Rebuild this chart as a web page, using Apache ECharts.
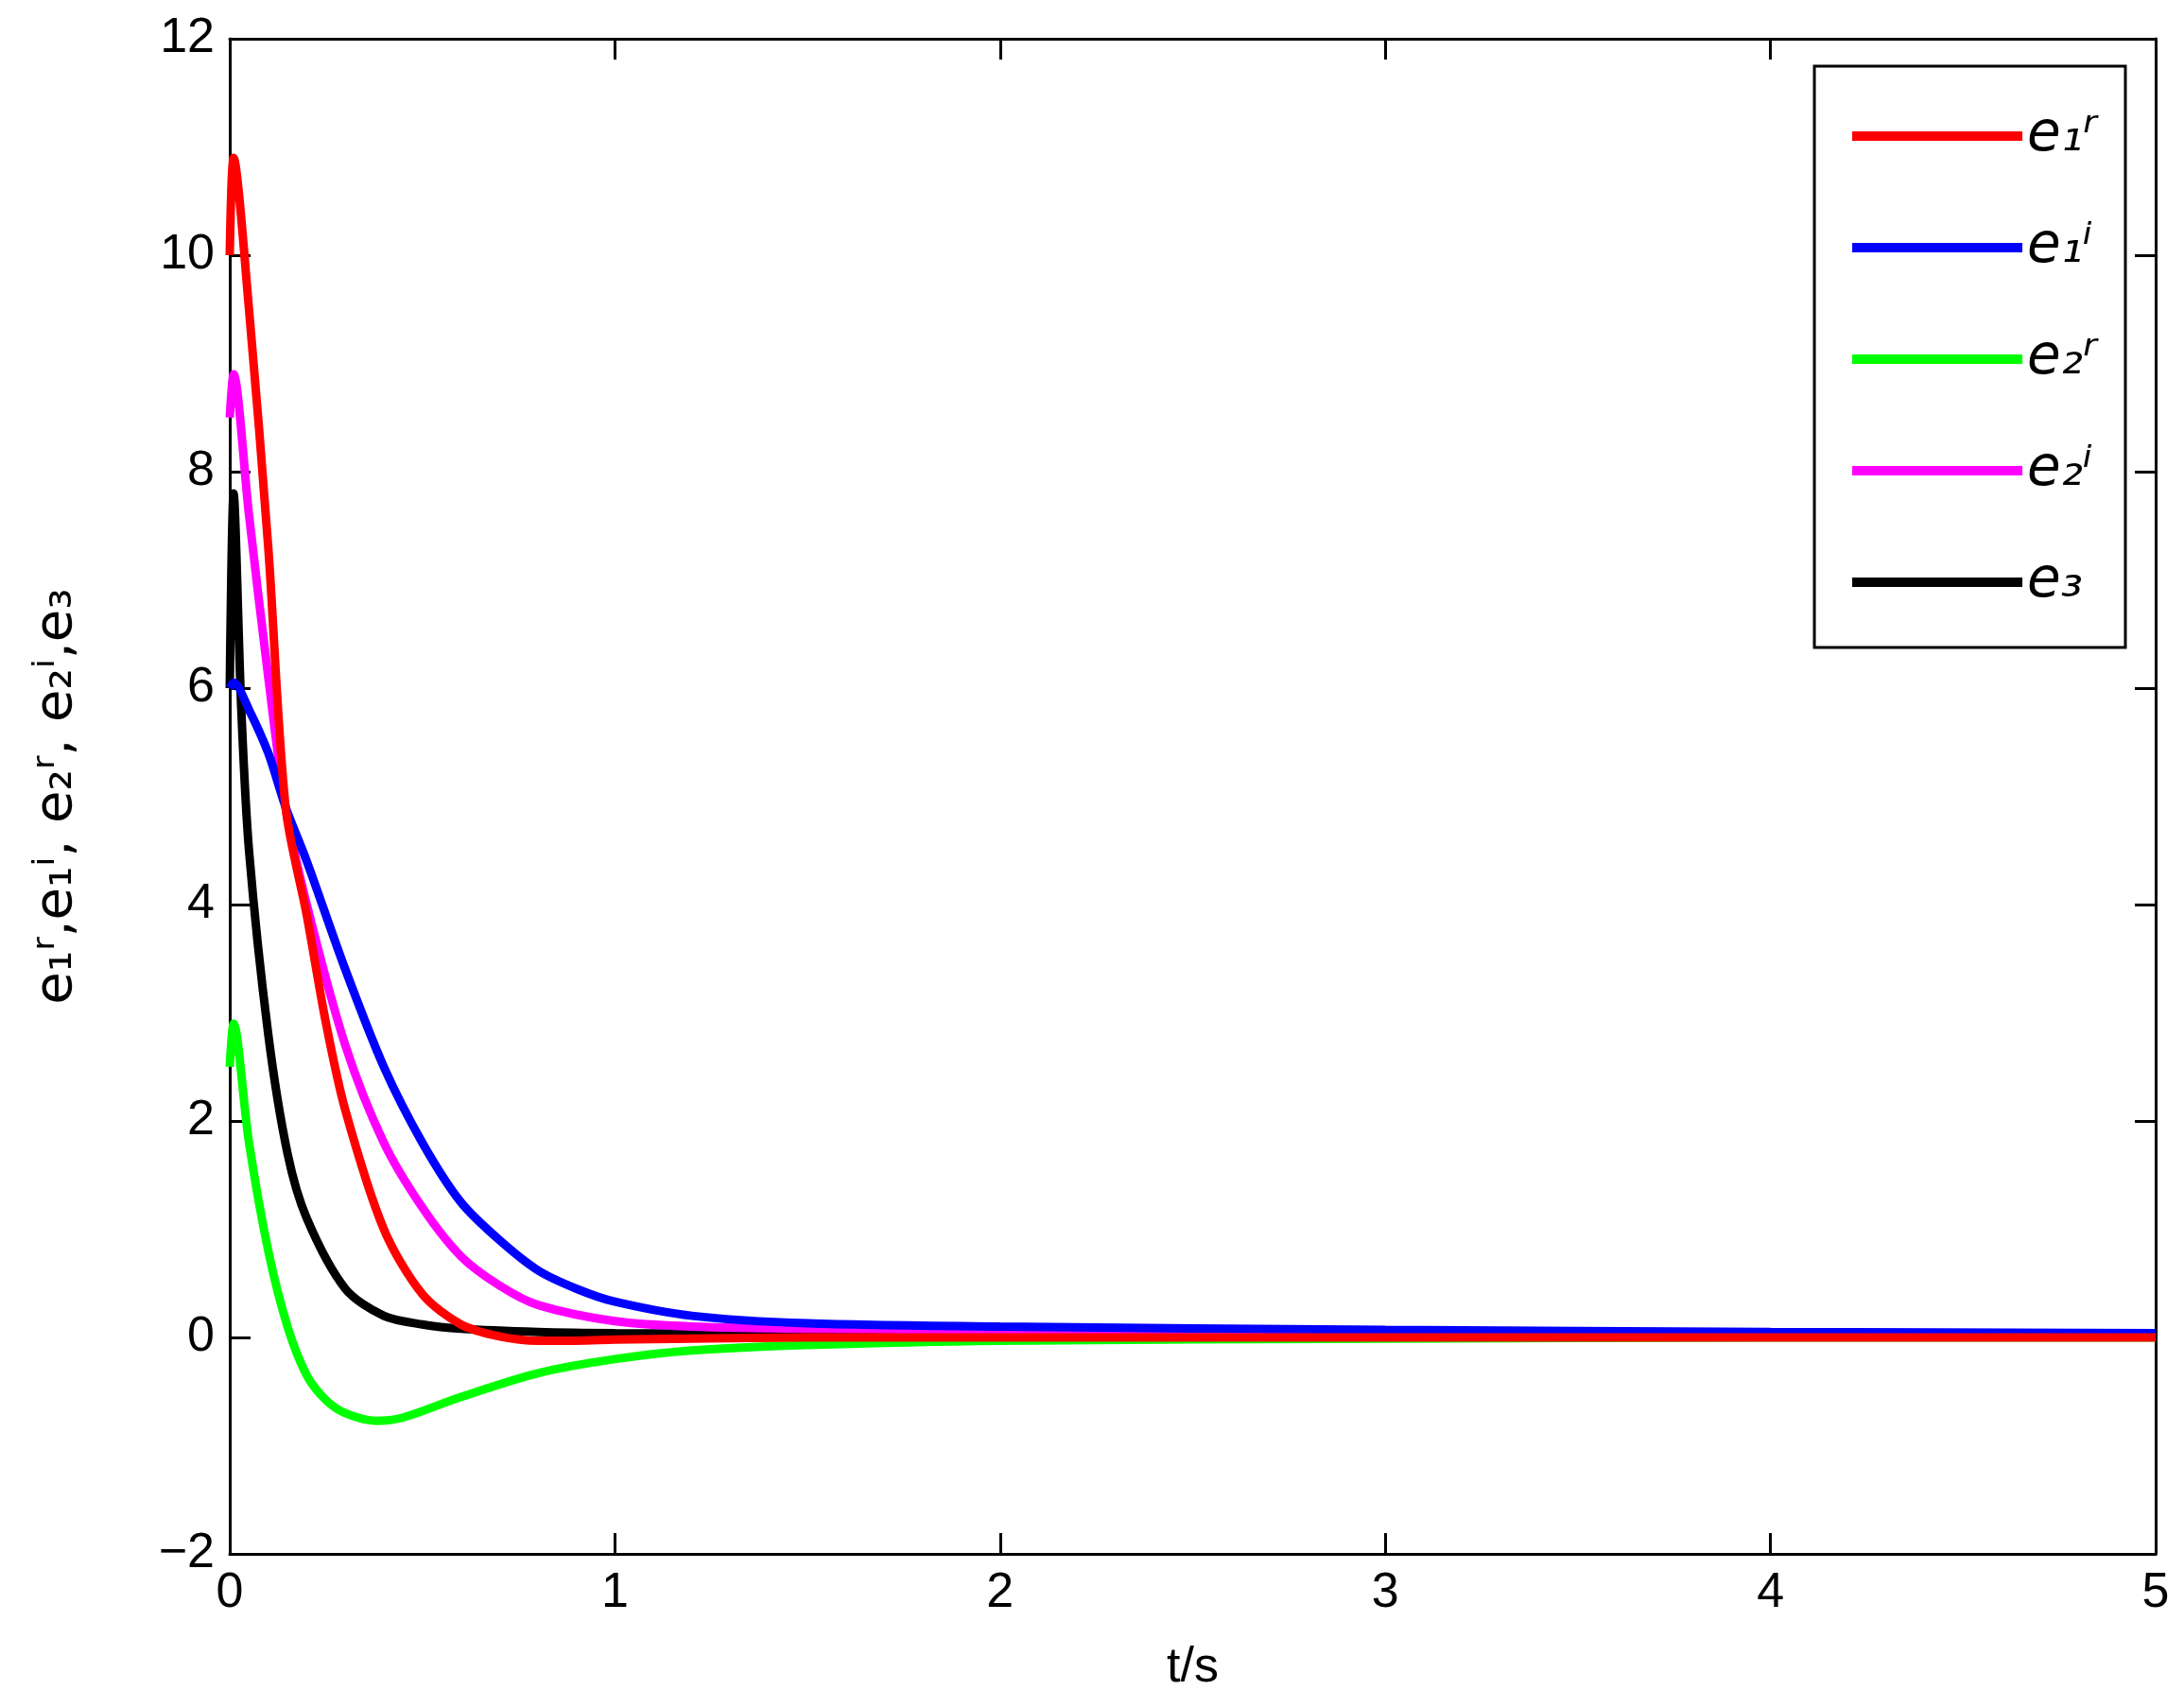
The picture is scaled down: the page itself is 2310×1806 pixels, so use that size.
<!DOCTYPE html><html><head><meta charset="utf-8"><style>html,body{margin:0;background:#fff}#c{width:2310px;height:1806px}</style>
<script src="https://cdn.jsdelivr.net/npm/echarts@6/dist/echarts.min.js"></script></head><body><div id="c"></div><script>
const names=['e₁ʳ','e₁ⁱ','e₂ʳ','e₂ⁱ','e₃'];
const colors=['#ff0000','#0000ff','#00ff00','#ff00ff','#000000'];
const e1r_t=[0,0.01,0.05,0.1,0.145,0.2,0.25,0.3,0.4,0.5,0.6,0.7,0.8,0.9,1,1.2,1.5,2,3,4,5];
const e1r_v=[10.0,10.9,9.5,7.3,4.9,3.9,2.9,2.1,1.0,0.4,0.12,0.01,-0.03,-0.03,-0.02,-0.01,0,0,0,0,0];
const e1i_t=[0,0.01,0.05,0.1,0.145,0.2,0.3,0.4,0.5,0.6,0.7,0.8,0.9,1,1.2,1.5,2,3,4,5];
const e1i_v=[6.0,6.05,5.8,5.4,4.9,4.4,3.4,2.5,1.8,1.25,0.9,0.62,0.45,0.33,0.2,0.13,0.1,0.07,0.05,0.04];
const e2r_t=[0,0.01,0.05,0.1,0.15,0.2,0.25,0.3,0.38,0.45,0.6,0.8,1,1.2,1.5,2,3,4,5];
const e2r_v=[2.5,2.9,1.8,0.8,0.1,-0.35,-0.58,-0.7,-0.77,-0.74,-0.55,-0.33,-0.2,-0.12,-0.07,-0.03,-0.01,0,0];
const e2i_t=[0,0.01,0.05,0.1,0.145,0.2,0.3,0.4,0.5,0.6,0.7,0.8,1,1.2,1.5,2,3,4,5];
const e2i_v=[8.5,8.9,7.6,6.1,4.9,4.0,2.7,1.8,1.2,0.75,0.48,0.3,0.15,0.1,0.08,0.07,0.05,0.04,0.03];
const e3_t=[0,0.01,0.03,0.05,0.1,0.15,0.2,0.3,0.4,0.5,0.6,0.8,1,2,3,4,5];
const e3_v=[6.0,7.8,5.8,4.5,2.8,1.7,1.1,0.45,0.2,0.12,0.08,0.05,0.04,0.03,0.02,0.02,0.02];
const ts=[e1r_t,e1i_t,e2r_t,e2i_t,e3_t], vs=[e1r_v,e1i_v,e2r_v,e2i_v,e3_v];
const F='Liberation Sans, Arial, sans-serif';
const base={min:0,max:5,interval:1,type:'value'};
const ax=(o)=>Object.assign({axisLine:{show:true,onZero:false,lineStyle:{color:'#000',width:3}},axisTick:{inside:true,length:22,lineStyle:{color:'#000',width:3}},splitLine:{show:false}},o);
const chart=echarts.init(document.getElementById('c'));
chart.setOption({animation:false,backgroundColor:'#fff',
grid:{left:243,right:30,top:41,bottom:162},
xAxis:[ax({type:'value',min:0,max:5,interval:1,axisLabel:{color:'#000',fontSize:52,fontFamily:F,margin:16},name:'t/s',nameLocation:'middle',nameGap:95,nameTextStyle:{color:'#000',fontSize:52,fontFamily:F}}),
 ax({type:'value',min:0,max:5,interval:1,position:'top',axisLabel:{show:false}})],
yAxis:[ax({type:'value',min:-2,max:12,interval:2,axisLabel:{color:'#000',fontSize:52,fontFamily:F,margin:16,formatter:v=>String(v).replace('-','\u2212')},name:'e₁ʳ,e₁ⁱ, e₂ʳ, e₂ⁱ,e₃',nameLocation:'middle',nameRotate:90,nameGap:155,nameTextStyle:{color:'#000',fontSize:56,fontFamily:'DejaVu Sans'}}),
 ax({type:'value',min:-2,max:12,interval:2,position:'right',axisLabel:{show:false}})],
legend:{orient:'vertical',right:62,top:70,itemWidth:180,itemHeight:10,itemGap:60,padding:[45,30,40,40],borderColor:'#000',borderWidth:3,backgroundColor:'#fff',
 textStyle:{fontSize:58,fontStyle:'italic',fontFamily:'DejaVu Sans',color:'#000'},data:names.map(n=>({name:n,icon:'rect'}))},
series:names.map((n,i)=>({name:n,type:'line',smooth:0.3,showSymbol:false,symbol:'none',lineStyle:{width:9,color:colors[i]},itemStyle:{color:colors[i]},z:10-i,
 data:ts[i].map((t,j)=>[t,vs[i][j]])}))
});
</script></body></html>
